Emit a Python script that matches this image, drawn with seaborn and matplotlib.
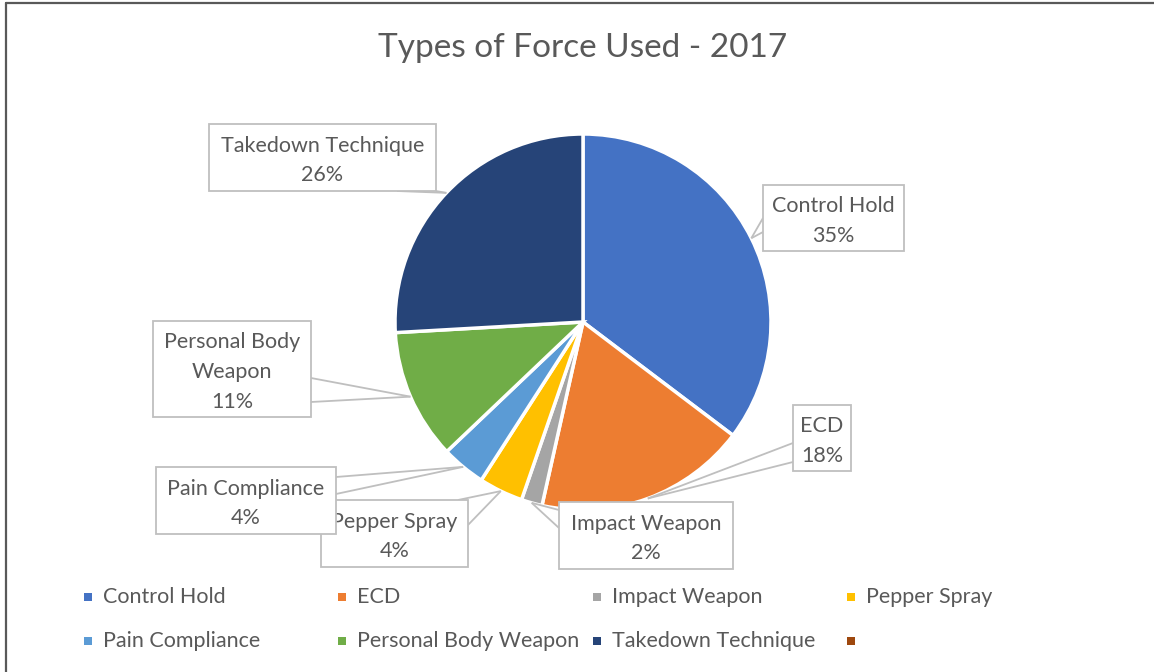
import matplotlib.pyplot as plt
import seaborn as sns
from matplotlib.patches import Rectangle
import numpy as np

# data (share of uses, %)
categories = ["Control Hold", "ECD", "Impact Weapon", "Pepper Spray",
              "Pain Compliance", "Personal Body Weapon", "Takedown Technique"]
shares = [35.3, 18.2, 1.8, 3.8, 3.8, 11.2, 25.9]
legend_labels = categories + [""]
colors = ["#4472C4", "#ED7D31", "#A5A5A5", "#FFC000",
          "#5B9BD5", "#70AD47", "#264478", "#9E480E"]

# callout boxes in pixel coords: (x0, y0, x1, y1), pointer base points
callouts = [
    ((763, 185, 904, 251), [(763, 218), (763, 232)]),
    ((793, 405, 851, 471), [(793, 443), (793, 462)]),
    ((559, 502, 733, 569), [(559, 510), (559, 528)]),
    ((321, 500, 468, 567), [(458, 500), (468, 525)]),
    ((156, 467, 336, 534), [(336, 477), (336, 494)]),
    ((153, 321, 311, 417), [(311, 378), (311, 402)]),
    ((209, 124, 436, 191), [(397, 191), (436, 191)]),
]
wrap = {"Personal Body Weapon": "Personal Body\nWeapon"}

sns.set_theme(style="white")
plt.rcParams['font.family'] = ['Lato', 'DejaVu Sans']
text_color = "#595959"
edge_gray = "#BFBFBF"

W, H = 1154, 672
fig = plt.figure(figsize=(W / 100, H / 100), dpi=100)
ax = fig.add_axes([0, 0, 1, 1])

center = (583, 322)
radius = 188
wedges, _ = ax.pie(shares, colors=colors[:len(shares)], startangle=270, counterclock=True,
                   center=center, radius=radius,
                   wedgeprops=dict(edgecolor='white', linewidth=2.5))
ax.set_xlim(0, W)
ax.set_ylim(H, 0)
ax.set_aspect('auto')
ax.axis('off')

# callout labels
for i, (w, name, val) in enumerate(zip(wedges, categories, shares)):
    (x0, y0, x1, y1), base = callouts[i]
    mid = np.deg2rad((w.theta1 + w.theta2) / 2)
    tip = (center[0] + radius * np.cos(mid), center[1] + radius * np.sin(mid))
    z = 5 + i * 0.1
    for bx, by in base:
        ax.plot([bx, tip[0]], [by, tip[1]], color=edge_gray, lw=1.3, zorder=z,
                solid_capstyle='butt')
    ax.add_patch(Rectangle((x0, y0), x1 - x0, y1 - y0, facecolor='white',
                           edgecolor=edge_gray, lw=1.3, zorder=z + 0.01))
    label = wrap.get(name, name) + f"\n{round(val)}%"
    ax.text((x0 + x1) / 2, (y0 + y1) / 2 + 3, label, ha='center', va='center',
            fontsize=15.5, color=text_color, linespacing=1.6, zorder=z + 0.02)

# title
ax.text(583, 48, "Types of Force Used - 2017", ha='center', va='center',
        fontsize=24, fontweight='normal', color=text_color)

# legend
col_x = [88, 342, 597, 851]
row_y = [597, 641]
for i, (lab, c) in enumerate(zip(legend_labels, colors)):
    x, y = col_x[i % 4], row_y[i // 4]
    ax.add_patch(Rectangle((x - 4, y - 4), 8, 8, color=c, lw=0))
    ax.text(x + 15, y, lab, ha='left', va='center', fontsize=15.5, color=text_color)

# chart frame (left and top edges visible)
ax.plot([6, 6], [3, H], color="#595959", lw=1.6, clip_on=False)
ax.plot([6, W], [3, 3], color="#595959", lw=1.6, clip_on=False)

fig.savefig("out.png", dpi=100, facecolor='white')
